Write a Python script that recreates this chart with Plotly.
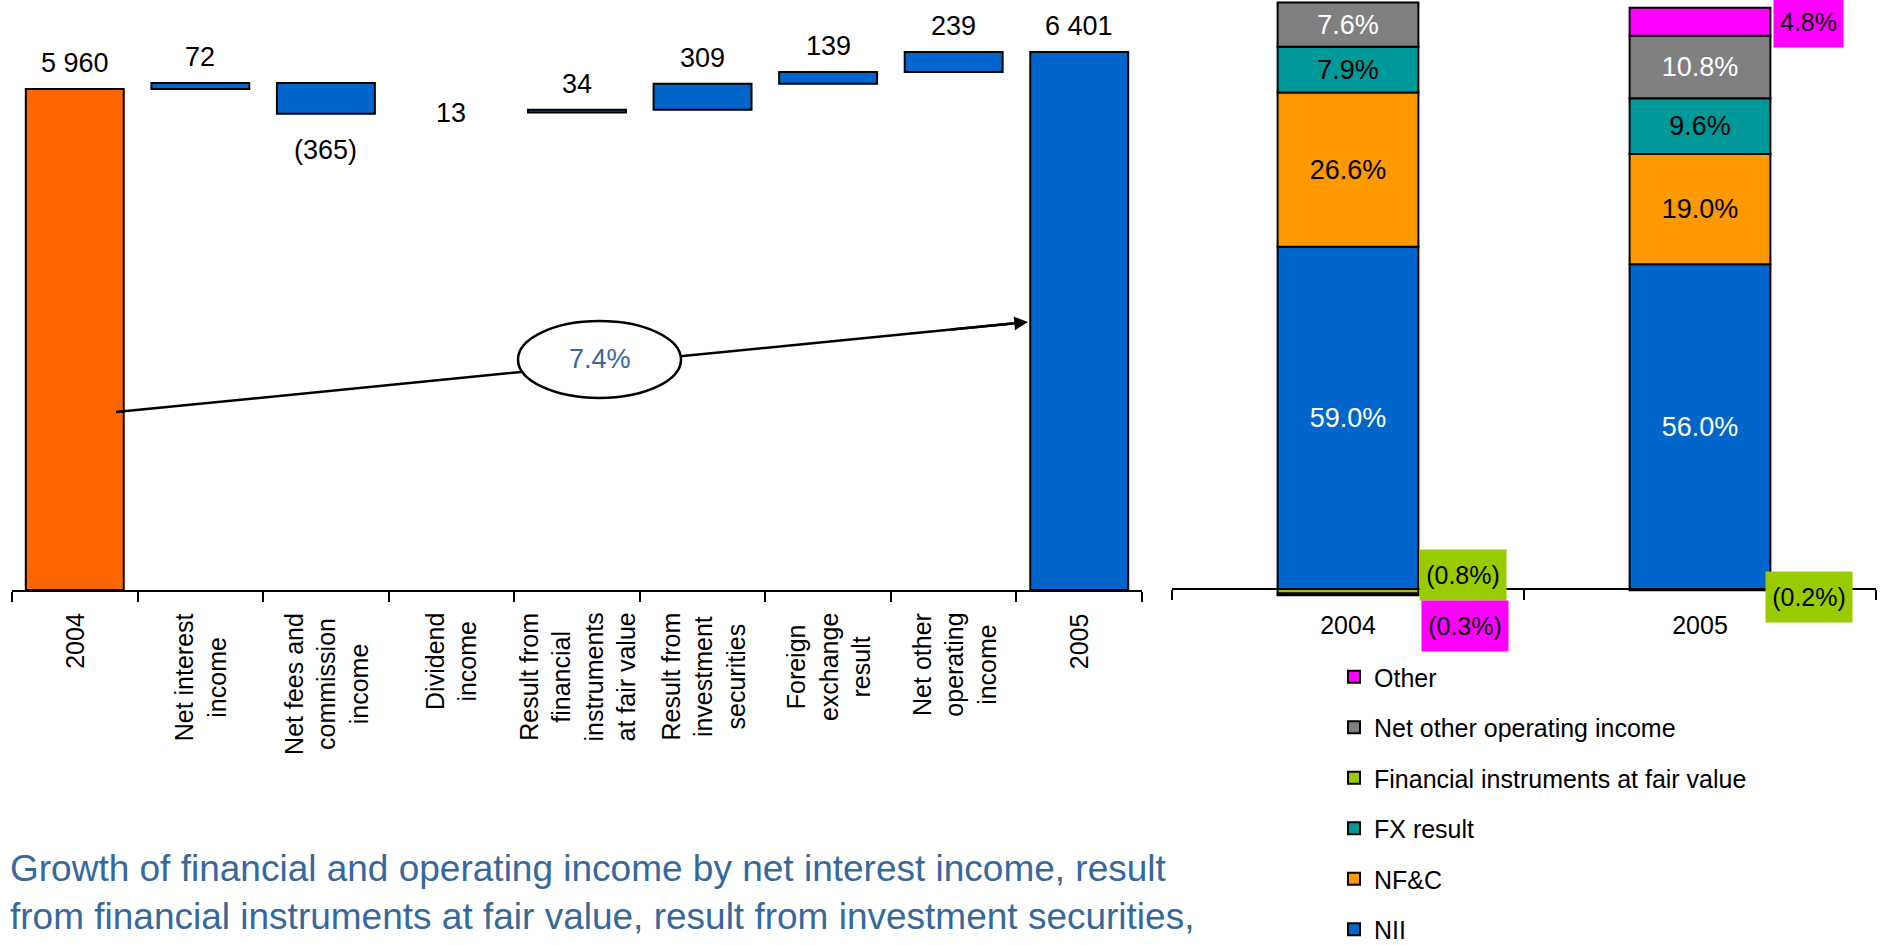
import plotly.graph_objects as go

W, H = 1881, 945
FONT = "Liberation Sans, Arial, sans-serif"

# ---- Bridge of financial and operating income, 2004 -> 2005 ----
steps = ["2004", "Net interest income", "Net fees and commission income", "Dividend income",
         "Result from financial instruments at fair value", "Result from investment securities",
         "Foreign exchange result", "Net other operating income", "2005"]
step_names = ["2004", "Net interest<br>income", "Net fees and<br>commission<br>income",
              "Dividend<br>income", "Result from<br>financial<br>instruments<br>at fair value",
              "Result from<br>investment<br>securities", "Foreign<br>exchange<br>result",
              "Net other<br>operating<br>income", "2005"]
step_values = [5960, 72, -365, 13, 34, 309, 139, 239, 6401]
step_is_total = [True, False, False, False, False, False, False, False, True]

# ---- Structure of income (% of total) ----
years = ["2004", "2005"]
nii = [59.0, 56.0]
nfc = [26.6, 19.0]
fx_result = [7.9, 9.6]
fin_instr = [-0.8, -0.2]
net_other = [7.6, 10.8]
other = [-0.3, 4.8]

growth_label = "7.4%"
note = ("Growth of financial and operating income by net interest income, result<br>"
        "from financial instruments at fair value, result from investment securities,<br>"
        "foreign exchange result and net other operating income")

ORANGE = "#FF6600"
BLUE = "#0066CC"
STEEL = "#36689C"

# plot geometry (pixels)
WF_AXIS_Y = 590
WF_YMAX = 7020
ST_AXIS_Y = 589


def px_x(x):
    return x / W


def px_y(y):
    return 1 - y / H


def fmt_amount(v):
    s = f"{abs(v):,}".replace(",", " ")
    return f"({s})" if v < 0 else s


def fmt_pct(v):
    s = f"{abs(v):.1f}%"
    return f"({s})" if v < 0 else s


fig = go.Figure()

# waterfall built from running totals
bases, running = [], 0
for v, tot in zip(step_values, step_is_total):
    if tot:
        bases.append(0)
        running = v
    else:
        bases.append(running)
        running += v

px_per_unit = WF_AXIS_Y / WF_YMAX
too_thin = [abs(v) * px_per_unit < 2 for v in step_values]
wf_colors = ["rgba(0,0,0,0)" if t else (ORANGE if i == 0 else BLUE)
             for i, t in enumerate(too_thin)]
wf_lw = [0 if t else 2 for t in too_thin]
fig.add_trace(go.Bar(
    x=steps, y=step_values, base=bases, width=0.78,
    marker=dict(color=wf_colors, line=dict(color="black", width=wf_lw)),
    showlegend=False, hoverinfo="skip", xaxis="x", yaxis="y",
))

annotations = []
# value labels (category positions given by index)
for i, (v, b) in enumerate(zip(step_values, bases)):
    top, bottom = max(b, b + v), min(b, b + v)
    if abs(v) < 20:
        y, shift = (top + bottom) / 2, 0
    elif v > 0:
        y, shift = top, 26
    else:
        y, shift = bottom, -36
    annotations.append(dict(x=i, y=y, xref="x", yref="y", text=fmt_amount(v), showarrow=False,
                            yshift=shift, yanchor="middle", xanchor="center",
                            font=dict(family=FONT, size=27, color="black")))

# rotated category names under the bridge
for i, name in enumerate(step_names):
    annotations.append(dict(x=i, y=px_y(611), xref="x", yref="paper", text=name, showarrow=False,
                            textangle=-90, yanchor="top", xanchor="center", align="center",
                            font=dict(family=FONT, size=25, color="black")))

# stacked structure bars
series = [
    ("NII", nii, "#0066CC", "white"),
    ("NF&C", nfc, "#FF9900", "black"),
    ("FX result", fx_result, "#009999", "black"),
    ("Financial instruments at fair value", fin_instr, "#99CC00", "black"),
    ("Net other operating income", net_other, "#808080", "white"),
    ("Other", other, "#FF00FF", "black"),
]
BAR_W = 0.4
for k, (name, vals, color, tcolor) in enumerate(series):
    fig.add_trace(go.Bar(
        x=years, y=vals, name=name, width=BAR_W, legendgroup=name,
        legendrank=100 - k,
        marker=dict(color=color, line=dict(color="black", width=2)),
        text=[fmt_pct(v) if abs(v) >= 5 else "" for v in vals],
        textposition="inside", insidetextanchor="middle", constraintext="none",
        textfont=dict(family=FONT, size=27, color=tcolor),
        hoverinfo="skip", xaxis="x2", yaxis="y2",
    ))

# callout boxes for small segments: (x shift px, y shift px) from the segment centre
callout_offsets = {
    ("Other", "2005"): (3, 0),
    ("Financial instruments at fair value", "2004"): (1, 16),
    ("Other", "2004"): (3, -32),
    ("Financial instruments at fair value", "2005"): (-5, -7),
}
pos_stack = [0.0] * len(years)
neg_stack = [0.0] * len(years)
for name, vals, color, tcolor in series:
    for i, v in enumerate(vals):
        if v >= 0:
            lo, hi = pos_stack[i], pos_stack[i] + v
            pos_stack[i] = hi
        else:
            hi, lo = neg_stack[i], neg_stack[i] + v
            neg_stack[i] = lo
        if abs(v) < 5:
            dx, dy = callout_offsets.get((name, years[i]), (3, 0))
            annotations.append(dict(
                x=i + BAR_W / 2, y=(lo + hi) / 2, xref="x2", yref="y2", text=fmt_pct(v),
                showarrow=False, xanchor="left", yanchor="middle", xshift=dx, yshift=dy,
                bgcolor=color, borderpad=3, width=80 if v < 0 else 63, height=44,
                font=dict(family=FONT, size=25, color="black")))

# compound growth arrow with ellipse badge
tail, head = (116, 412), (1028, 322)


def on_arrow(x):
    return tail[1] + (head[1] - tail[1]) * (x - tail[0]) / (head[0] - tail[0])


shapes = [
    dict(type="line", xref="paper", yref="paper", x0=px_x(tail[0]), y0=px_y(tail[1]),
         x1=px_x(1012), y1=px_y(on_arrow(1012)), line=dict(color="black", width=2.5)),
    dict(type="circle", xref="paper", yref="paper", x0=px_x(518), x1=px_x(681),
         y0=px_y(398), y1=px_y(321), fillcolor="white", line=dict(color="black", width=2.5)),
]
annotations.append(dict(x=px_x(head[0]), y=px_y(head[1]), xref="paper", yref="paper", text="",
                        showarrow=True, ax=950 - head[0], ay=on_arrow(950) - head[1],
                        arrowhead=2, arrowsize=1.1, arrowwidth=2.5, arrowcolor="black", standoff=0))
annotations.append(dict(x=px_x(600), y=px_y(359), xref="paper", yref="paper", text=growth_label,
                        showarrow=False, xanchor="center", yanchor="middle",
                        font=dict(family=FONT, size=27, color=STEEL)))

annotations.append(dict(x=px_x(8), y=px_y(846), xref="paper", yref="paper", text=note,
                        showarrow=False, xanchor="left", yanchor="top", align="left",
                        font=dict(family=FONT, size=37, color=STEEL)))

fig.update_layout(
    width=W, height=H, margin=dict(l=0, r=0, t=0, b=0, autoexpand=False),
    paper_bgcolor="white", plot_bgcolor="white",
    barmode="relative", bargap=0.2,
    font=dict(family=FONT, size=25, color="black"),
    xaxis=dict(type="category", domain=[px_x(12), px_x(1142)], anchor="y", showline=True,
               linecolor="black", linewidth=2, ticks="outside", tickson="boundaries", ticklen=10,
               tickwidth=2, tickcolor="black", showticklabels=False, showgrid=False, zeroline=False,
               range=[-0.5, len(steps) - 0.5]),
    yaxis=dict(domain=[px_y(WF_AXIS_Y), 1], range=[0, WF_YMAX], visible=False),
    xaxis2=dict(type="category", domain=[px_x(1172), px_x(1876)], anchor="free",
                position=px_y(ST_AXIS_Y), showline=True, linecolor="black", linewidth=2,
                ticks="outside", tickson="boundaries", ticklen=10, tickwidth=2, tickcolor="black",
                showgrid=False, zeroline=False, ticklabelstandoff=14,
                tickfont=dict(family=FONT, size=25, color="black")),
    yaxis2=dict(domain=[0.2, 1], range=[-28.8, 101.55], anchor="x2", visible=False),
    legend=dict(x=px_x(1334), xanchor="left", y=px_y(654), yanchor="top",
                traceorder="grouped", tracegroupgap=15,
                font=dict(family=FONT, size=25, color="black"), bgcolor="rgba(0,0,0,0)"),
    annotations=annotations, shapes=shapes,
)

fig.write_html("out.html")
